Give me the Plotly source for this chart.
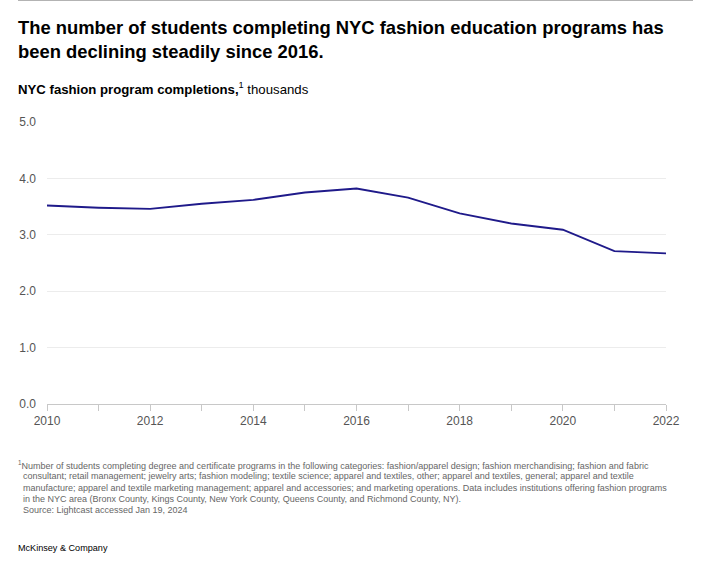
import plotly.graph_objects as go

years = [2010, 2011, 2012, 2013, 2014, 2015, 2016, 2017, 2018, 2019, 2020, 2021, 2022]
completions = [3.52, 3.48, 3.46, 3.55, 3.62, 3.75, 3.82, 3.66, 3.38, 3.20, 3.09, 2.71, 2.67]
x_tick_vals = [2010, 2012, 2014, 2016, 2018, 2020, 2022]
x_tick_labels = ["2010", "2012", "2014", "2016", "2018", "2020", "2022"]
y_tick_vals = [0, 1, 2, 3, 4, 5]
y_tick_labels = ["0.0", "1.0", "2.0", "3.0", "4.0", "5.0"]

title_text = ("The number of students completing NYC fashion education programs has<br>"
              "been declining steadily since 2016.")
subtitle_text = "<b>NYC fashion program completions,</b><sup>1</sup> thousands"
footnote_lines = [
    "<sup>1</sup>Number of students completing degree and certificate programs in the following categories: fashion/apparel design; fashion merchandising; fashion and fabric",
    "  consultant; retail management; jewelry arts; fashion modeling; textile science; apparel and textiles, other; apparel and textiles, general; apparel and textile",
    "  manufacture; apparel and textile marketing management; apparel and accessories; and marketing operations. Data includes institutions offering fashion programs",
    "  in the NYC area (Bronx County, Kings County, New York County, Queens County, and Richmond County, NY).",
    "  Source: Lightcast accessed Jan 19, 2024",
]
brand_text = "McKinsey & Company"

FONT = "Liberation Sans, Arial, sans-serif"

fig = go.Figure()
fig.add_trace(go.Scatter(
    x=years, y=completions, mode="lines",
    line=dict(color="#1f1a8a", width=1.9),
    hoverinfo="skip", showlegend=False,
))

annotations = [
    dict(text="<b>" + title_text + "</b>", xref="paper", yref="paper",
         x=-0.05, y=1.378, xanchor="left", yanchor="top", align="left",
         showarrow=False, font=dict(family=FONT, size=18.4, color="#000000")),
    dict(text=subtitle_text, xref="paper", yref="paper",
         x=-0.05, y=1.157, xanchor="left", yanchor="top", align="left",
         showarrow=False, font=dict(family=FONT, size=13.2, color="#000000")),
    dict(text=brand_text, xref="paper", yref="paper",
         x=-0.05, y=-0.486, xanchor="left", yanchor="top", align="left",
         showarrow=False, font=dict(family=FONT, size=9.1, color="#000000")),
]
# footnote lines, centres at ~465, 476.5, 488, 499, 510 px (plot bottom at 404, height 282)
for i, line in enumerate(footnote_lines):
    centre_px = 465 + i * 11.3
    annotations.append(dict(
        text=line, xref="paper", yref="paper",
        x=-0.05, y=(404 - centre_px) / 282, xanchor="left",
        yanchor="bottom" if i == 0 else "middle", yshift=-8 if i == 0 else 0,
        align="left", showarrow=False,
        font=dict(family=FONT, size=9.0, color="#666666")))

fig.update_layout(
    width=709, height=571,
    margin=dict(l=47, r=43, t=122, b=167),
    paper_bgcolor="white", plot_bgcolor="white",
    font=dict(family=FONT, color="#000000"),
    xaxis=dict(
        range=[2010, 2022], tickvals=x_tick_vals, ticktext=x_tick_labels,
        showgrid=False, zeroline=False,
        showline=True, linecolor="#c8c8c8", linewidth=1,
        ticks="outside", ticklen=6, tickcolor="#c8c8c8",
        minor=dict(ticks="outside", tick0=2010, dtick=1, ticklen=6,
                   tickcolor="#c8c8c8", showgrid=False),
        tickfont=dict(family=FONT, size=12, color="#555555"),
        fixedrange=True,
    ),
    yaxis=dict(
        range=[0, 5], tickvals=y_tick_vals, ticktext=y_tick_labels,
        showgrid=True, gridcolor="#ececec", gridwidth=1,
        zeroline=False, showline=False,
        ticks="", ticklabelstandoff=10,
        tickfont=dict(family=FONT, size=12, color="#555555"),
        fixedrange=True,
    ),
    shapes=[dict(type="line", xref="paper", yref="paper",
                 x0=-0.0468, x1=1.0436, y0=1.431, y1=1.431,
                 line=dict(color="#b0b0b0", width=1))],
    annotations=annotations,
)

fig.write_html("out.html", config={"displayModeBar": False},
               post_script="document.body.style.margin='0';document.body.style.padding='0';")
